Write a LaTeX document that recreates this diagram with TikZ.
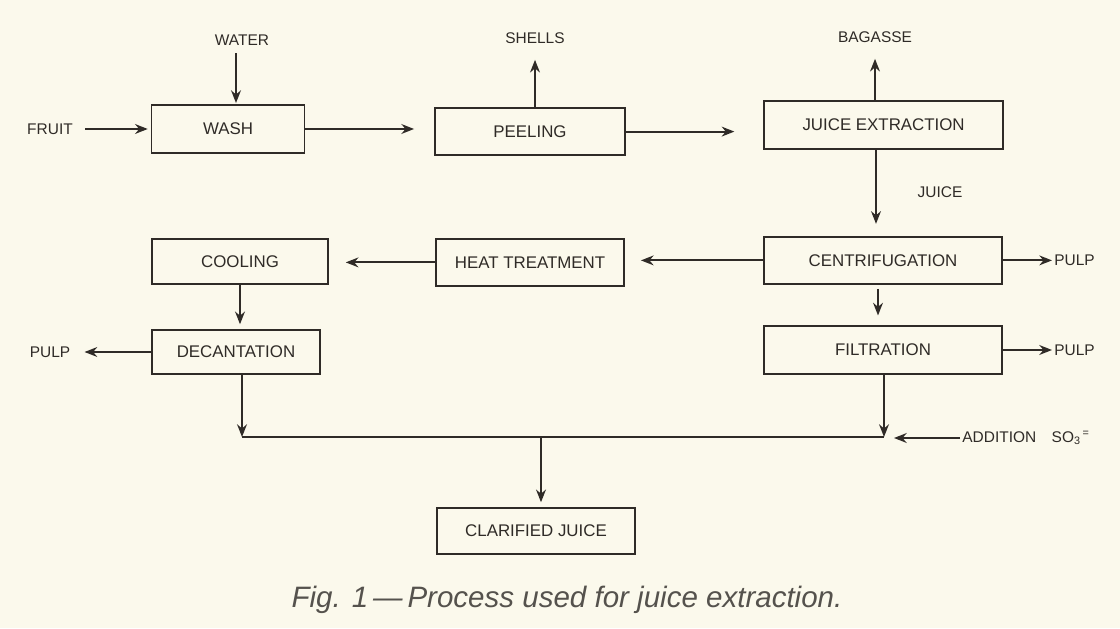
\documentclass[tikz,border=0pt]{standalone}
\usepackage{fontspec}
\setmainfont{Liberation Sans}
\usetikzlibrary{arrows.meta}
\definecolor{paper}{HTML}{FBF9EC}
\definecolor{ink}{HTML}{2F2B27}
\definecolor{capgray}{HTML}{55524D}
\begin{document}
\begin{tikzpicture}[>={Stealth[length=9pt,width=7pt]}, line width=1.35pt, draw=ink,
    box/.style={draw=ink, line width=1.35pt, minimum height=1.18cm, text=ink, font=\fontsize{12}{14}\selectfont},
    lbl/.style={text=ink, font=\fontsize{11}{13}\selectfont, inner sep=1pt},
    flow/.style={->, ink, line width=1.35pt}]
    % Page and margins
    \fill[paper] (0,0) rectangle (28,15.7);
    \useasboundingbox (0,0) rectangle (28,15.7);

    % Process steps
    \node[box, minimum width=3.825cm] (wash) at (5.7,12.475) {WASH};
    \node[box, minimum width=4.75cm] (peel) at (13.25,12.41) {PEELING};
    \node[box, minimum width=5.975cm] (extr) at (22.09,12.575) {JUICE EXTRACTION};
    \node[box, minimum width=5.95cm] (centr) at (22.075,9.19) {CENTRIFUGATION};
    \node[box, minimum width=4.7cm] (heat) at (13.25,9.14) {HEAT TREATMENT};
    \node[box, minimum width=4.4cm, minimum height=1.125cm] (cool) at (6.0,9.16) {COOLING};
    \node[box, minimum width=4.2cm, minimum height=1.1cm] (decant) at (5.9,6.9) {DECANTATION};
    \node[box, minimum width=5.95cm] (filt) at (22.075,6.95) {FILTRATION};
    \node[box, minimum width=4.95cm, minimum height=1.15cm] (clar) at (13.4,2.425) {CLARIFIED JUICE};

    % Inputs and outputs
    \node[lbl] (water) at (6.05,14.7) {WATER};
    \node[lbl] (shells) at (13.375,14.75) {SHELLS};
    \node[lbl] (bagasse) at (21.875,14.775) {BAGASSE};
    \node[lbl] (fruit) at (1.25,12.475) {FRUIT};
    \node[lbl] (juice) at (23.5,10.9) {JUICE};
    \node[lbl] (pulpa) at (1.25,6.9) {PULP};
    \node[lbl, anchor=west] (pulpb) at (26.3,9.19) {PULP};
    \node[lbl, anchor=west] (pulpc) at (26.3,6.95) {PULP};
    \node[lbl, anchor=west] (addso) at (24.0,4.75) {ADDITION\quad SO\textsubscript{3}\textsuperscript{\,=}};

    % Collecting line
    \coordinate (jl) at (6.05,4.775);
    \coordinate (jr) at (22.1,4.775);
    \coordinate (jm) at (13.525,4.775);
    \coordinate (addend) at (22.35,4.775);

    % Main flow
    \draw[flow, shorten >=2pt] (fruit.east) ++(0.25,0) -- (wash.west);
    \draw[flow, shorten <=4pt, shorten >=1pt] (water.south -| 5.9,0) -- (wash.north -| 5.9,0);
    \draw[flow, shorten >=0.5cm] (wash.east) -- (peel.west |- wash.east);
    \draw[flow] (peel.north -| shells) -- ([yshift=-0.35cm]shells.south);
    \draw[flow, shorten >=0.72cm] (peel.east) -- (extr.west |- peel.east);
    \draw[flow] (extr.north -| bagasse) -- ([yshift=-0.35cm]bagasse.south);
    \draw[flow, shorten >=0.3cm] (extr.south -| 21.9,0) -- (centr.north -| 21.9,0);
    \draw[flow] (centr.east) -- (pulpb.west |- centr.east);
    \draw[flow, shorten >=0.4cm] (centr.west) -- (heat.east |- centr.west);
    \draw[flow, shorten >=0.42cm] (heat.west) -- (cool.east |- heat.west);
    \draw[flow, shorten >=0.12cm] (cool.south) -- (cool.south |- decant.north);
    \draw[flow, shorten >=0.3cm] (decant.west) -- (pulpa.east);
    \draw[flow, shorten <=0.1cm, shorten >=0.25cm] (centr.south -| 21.95,0) -- (filt.north -| 21.95,0);
    \draw[flow] (filt.east) -- (pulpc.west |- filt.east);

    % Recombination and sulphite addition
    \draw[flow] (decant.south -| jl) -- (jl);
    \draw[flow] (filt.south -| jr) -- (jr);
    \draw[ink] (jl) -- (jr);
    \draw[flow, shorten >=0.12cm] (jm) -- (clar.north -| jm);
    \draw[flow] (addso.west) -- (addend |- addso.west);

    % Caption
    \node[text=capgray, font=\fontsize{21}{24}\selectfont\itshape] (caption) at (14.175,0.7)
        {Fig. 1\,—\,Process used for juice extraction.};
\end{tikzpicture}
\end{document}
